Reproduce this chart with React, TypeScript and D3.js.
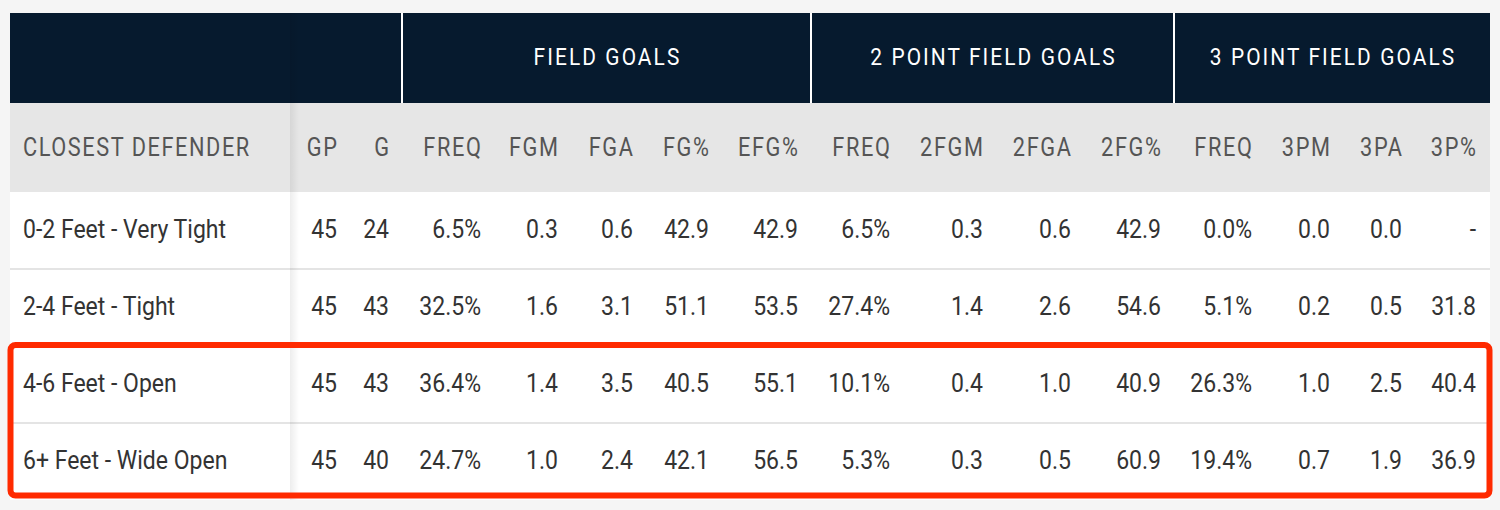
import React, { useRef, useEffect } from 'react';
import * as d3 from 'd3';

// table data, one array per column
const defenders = ['0-2 Feet - Very Tight', '2-4 Feet - Tight', '4-6 Feet - Open', '6+ Feet - Wide Open'];
const gp = [45, 45, 45, 45];
const games = [24, 43, 43, 40];
const fgFreq = [6.5, 32.5, 36.4, 24.7];
const fgm = [0.3, 1.6, 1.4, 1.0];
const fga = [0.6, 3.1, 3.5, 2.4];
const fgPct = [42.9, 51.1, 40.5, 42.1];
const efgPct = [42.9, 53.5, 55.1, 56.5];
const fg2Freq = [6.5, 27.4, 10.1, 5.3];
const fg2m = [0.3, 1.4, 0.4, 0.3];
const fg2a = [0.6, 2.6, 1.0, 0.5];
const fg2Pct = [42.9, 54.6, 40.9, 60.9];
const fg3Freq = [0.0, 5.1, 26.3, 19.4];
const fg3m = [0.0, 0.2, 1.0, 0.7];
const fg3a = [0.0, 0.5, 2.5, 1.9];
const fg3Pct = [null, 31.8, 40.4, 36.9];

const groupLabels = ['FIELD GOALS', '2 POINT FIELD GOALS', '3 POINT FIELD GOALS'];
const highlighted = ['4-6 Feet - Open', '6+ Feet - Wide Open'];

const int = d3.format('d');
const dec = d3.format('.1f');
const pct = (v: number) => d3.format('.1f')(v) + '%';

const columns = [
  { label: 'GP', values: gp, fmt: int },
  { label: 'G', values: games, fmt: int },
  { label: 'FREQ', values: fgFreq, fmt: pct },
  { label: 'FGM', values: fgm, fmt: dec },
  { label: 'FGA', values: fga, fmt: dec },
  { label: 'FG%', values: fgPct, fmt: dec },
  { label: 'EFG%', values: efgPct, fmt: dec },
  { label: 'FREQ', values: fg2Freq, fmt: pct },
  { label: '2FGM', values: fg2m, fmt: dec },
  { label: '2FGA', values: fg2a, fmt: dec },
  { label: '2FG%', values: fg2Pct, fmt: dec },
  { label: 'FREQ', values: fg3Freq, fmt: pct },
  { label: '3PM', values: fg3m, fmt: dec },
  { label: '3PA', values: fg3a, fmt: dec },
  { label: '3P%', values: fg3Pct, fmt: dec },
];

// layout (right edge of each numeric column, group borders)
const colRight = [337, 389, 481, 558, 633, 709, 798, 890, 983, 1071, 1161, 1252, 1330, 1402, 1476];
const groupEdges = [402, 811, 1174, 1490];

const App = () => {
  const svgRef = useRef<SVGSVGElement>(null);

  useEffect(() => {
    const width = 1500;
    const height = 510;
    const left = 10;
    const right = 1490;
    const top = 13;
    const headH = 90;
    const subH = 89;
    const firstColW = 280;
    const font = 'Roboto, "Noto Sans", sans-serif';

    const svg = d3.select(svgRef.current);
    svg.selectAll('*').remove();
    svg.attr('width', width).attr('height', height);

    // glyphs squeezed horizontally, like a condensed face
    const text = (x: number, y: number, t: string, anchor: string, size: number, color: string, ls = 0, sx = 0.87) => {
      svg.append('text')
        .attr('transform', `translate(${anchor === 'end' ? x + ls * sx : x},${y}) scale(${sx},1)`)
        .attr('text-anchor', anchor)
        .style('font-family', font)
        .style('font-size', `${size}px`)
        .style('letter-spacing', `${ls}px`)
        .attr('fill', color)
        .text(t);
    };

    svg.append('rect').attr('width', width).attr('height', height).attr('fill', '#f5f5f5');

    const x = d3.scaleOrdinal<number, number>().domain(d3.range(columns.length)).range(colRight);
    const subTop = top + headH;
    const bodyTop = subTop + subH;
    const y = d3.scaleBand().domain(defenders).range([bodyTop, bodyTop + 77 * defenders.length]);

    // body
    svg.append('rect')
      .attr('x', left).attr('y', bodyTop)
      .attr('width', right - left).attr('height', y.range()[1] - bodyTop)
      .attr('fill', '#ffffff');

    // header bands
    svg.append('rect').attr('x', left).attr('y', top).attr('width', right - left).attr('height', headH).attr('fill', '#061a2e');
    svg.append('rect').attr('x', left).attr('y', subTop).attr('width', right - left).attr('height', subH).attr('fill', '#e6e6e6');

    // group separators in the dark header
    groupEdges.slice(0, -1).forEach(e => {
      svg.append('rect').attr('x', e - 1).attr('y', top).attr('width', 2).attr('height', headH).attr('fill', '#ffffff');
    });

    groupLabels.forEach((lab, i) => {
      const cx = (groupEdges[i] + groupEdges[i + 1]) / 2;
      text(cx + 1, top + 52, lab, 'middle', 24, '#ffffff', 2.4);
    });

    // column headers
    text(left + 13, subTop + 53, 'CLOSEST DEFENDER', 'start', 25, '#555555', 1.8);
    columns.forEach((c, i) => {
      text(x(i), subTop + 53, c.label, 'end', 25, '#555555', 1.9);
    });

    // row separators
    defenders.slice(1).forEach(d => {
      svg.append('rect').attr('x', left).attr('y', (y(d) as number) - 1)
        .attr('width', right - left).attr('height', 2).attr('fill', '#e4e4e4');
    });

    // frozen first column shadow
    const defs = svg.append('defs');
    const grad = defs.append('linearGradient').attr('id', 'colShadow');
    grad.append('stop').attr('offset', '0%').attr('stop-color', '#000').attr('stop-opacity', 0.07);
    grad.append('stop').attr('offset', '100%').attr('stop-color', '#000').attr('stop-opacity', 0);
    svg.append('rect').attr('x', left + firstColW).attr('y', top)
      .attr('width', 9).attr('height', y.range()[1] - top).attr('fill', 'url(#colShadow)');

    // cells
    defenders.forEach((d, r) => {
      const base = (y(d) as number) + 46;
      text(left + 13, base, d, 'start', 26, '#333333', 0, 0.885);
      columns.forEach((c, i) => {
        const v = c.values[r];
        text(x(i), base, v == null ? '-' : c.fmt(v as number), 'end', 26, '#333333', 0, 0.885);
      });
    });

    // highlight box around the open rows
    const hTop = y(highlighted[0]) as number;
    const hBot = (y(highlighted[highlighted.length - 1]) as number) + y.bandwidth();
    svg.append('rect')
      .attr('x', left + 0.5).attr('y', hTop - 1)
      .attr('width', right - left - 1).attr('height', hBot - hTop - 3.5)
      .attr('rx', 5)
      .attr('fill', 'none')
      .attr('stroke', '#ff2a00')
      .attr('stroke-width', 6);
  }, []);

  return <svg ref={svgRef} style={{ position: 'absolute', left: 0, top: 0, display: 'block' }}></svg>;
};

export default App;
